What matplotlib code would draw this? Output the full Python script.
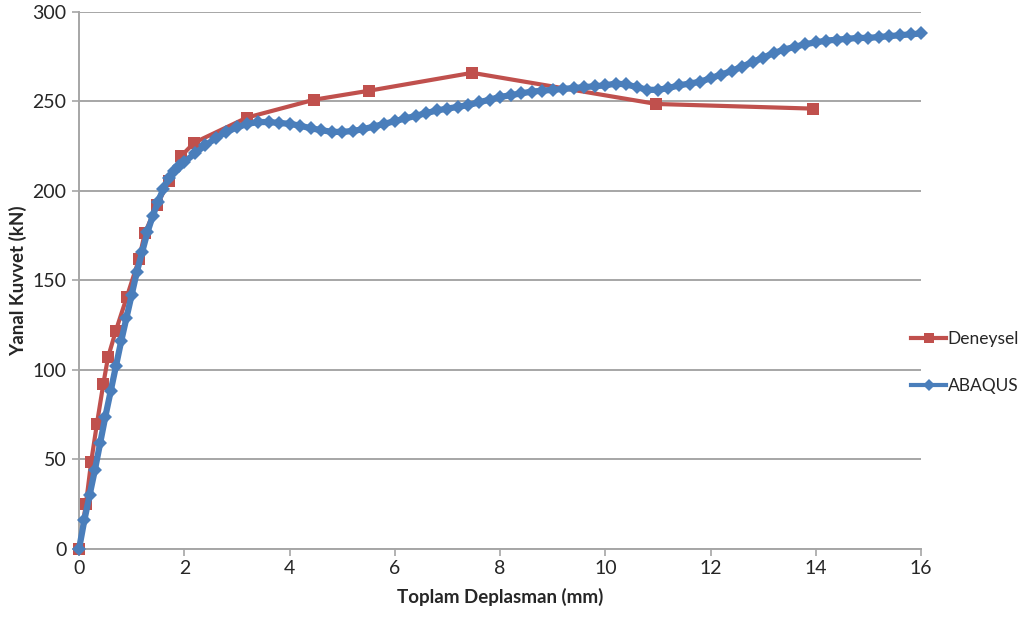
import matplotlib
matplotlib.use("Agg")
import matplotlib.pyplot as plt

# Deneysel (test) curve
deney_x = [0, 0.13, 0.23, 0.34, 0.46, 0.55, 0.70, 0.91, 1.14, 1.25, 1.48, 1.71,
           1.94, 2.19, 3.19, 4.47, 5.51, 7.47, 10.97, 13.95]
deney_y = [0, 25, 48.6, 70, 92, 107, 122, 141, 162, 176.5, 192, 205.6,
           219.5, 227, 241, 251, 256, 266, 248.6, 246]

# ABAQUS (FE) curve
abaqus_x = [0, 0.1, 0.2, 0.3, 0.4, 0.5, 0.6, 0.7, 0.8, 0.9, 1.0, 1.1, 1.2, 1.3,
            1.4, 1.5, 1.6, 1.7, 1.8, 1.9, 2.0, 2.2, 2.4, 2.6, 2.8, 3.0, 3.2,
            3.4, 3.6, 3.8, 4.0, 4.2, 4.4, 4.6, 4.8, 5.0, 5.2, 5.4, 5.6, 5.8,
            6.0, 6.2, 6.4, 6.6, 6.8, 7.0, 7.2, 7.4, 7.6, 7.8, 8.0, 8.2, 8.4,
            8.6, 8.8, 9.0, 9.2, 9.4, 9.6, 9.8, 10.0, 10.2, 10.4, 10.6, 10.8,
            11.0, 11.2, 11.4, 11.6, 11.8, 12.0, 12.2, 12.4, 12.6, 12.8, 13.0,
            13.2, 13.4, 13.6, 13.8, 14.0, 14.2, 14.4, 14.6, 14.8, 15.0, 15.2,
            15.4, 15.6, 15.8, 16.0]
abaqus_y = [0, 16, 30, 44, 59, 74, 88, 102, 116, 129, 142, 155, 166, 177,
            186, 194, 201, 207, 211, 214, 216, 221, 225.5, 229.5, 233, 235.5,
            237.5, 238.5, 238.5, 238, 237.5, 236.5, 235, 234, 233, 233, 233.5,
            234.5, 236, 237.5, 239, 240.5, 242, 243.5, 245, 246, 247, 248,
            249.5, 251, 252.5, 253.5, 254.5, 255.5, 256, 256.5, 257, 257.5,
            258, 258.5, 259, 260, 259.5, 258, 256.5, 256.5, 257.5, 259, 260,
            261, 263, 265, 267, 269.5, 272, 274.5, 277, 279, 280.5, 282, 283,
            284, 284.5, 285, 285.5, 285.5, 286, 286.5, 287, 287.5, 288]

x_ticks = [0, 2, 4, 6, 8, 10, 12, 14, 16]
y_ticks = [0, 50, 100, 150, 200, 250, 300]

red = "#C0504D"
blue = "#4A7EBB"
grid_col = "#A6A6A6"
txt_col = "#262626"

plt.rcParams["font.family"] = ["Lato", "DejaVu Sans"]

fig = plt.figure(figsize=(10.2, 6.23), dpi=100)
ax = fig.add_axes([0.0775, 0.1188, 0.8255, 0.862])

ax.plot(abaqus_x, abaqus_y, color=blue, lw=4.5, marker="D", ms=7.5,
        markeredgewidth=0, label="ABAQUS", zorder=3, clip_on=False)
ax.plot(deney_x, deney_y, color=red, lw=3, marker="s", ms=9,
        markeredgewidth=0, label="Deneysel", zorder=2, clip_on=False)

ax.set_xlim(0, 16)
ax.set_ylim(0, 300)
ax.set_xticks(x_ticks)
ax.set_yticks(y_ticks)
ax.yaxis.grid(True, color=grid_col, lw=1.4)
ax.set_axisbelow(True)

for s in ["top", "right"]:
    ax.spines[s].set_visible(False)
for s in ["left", "bottom"]:
    ax.spines[s].set_color(grid_col)
    ax.spines[s].set_linewidth(1.4)

ax.tick_params(axis="both", colors=grid_col, labelcolor=txt_col,
               labelsize=14, length=5, width=1.2, direction="out")
ax.tick_params(axis="y", pad=4)
ax.tick_params(axis="x", pad=3)

ax.set_xlabel("Toplam Deplasman (mm)", fontsize=13.5, fontweight="bold",
              color=txt_col, labelpad=8)
ax.set_ylabel("Yanal Kuvvet (kN)", fontsize=13.5, fontweight="bold",
              color=txt_col, labelpad=4)

handles, labels = ax.get_legend_handles_labels()
leg = fig.legend(handles[::-1], labels[::-1], loc="center left",
                 bbox_to_anchor=(0.878, 0.418), frameon=False, fontsize=12.5,
                 handlelength=2.0, handletextpad=0.1, labelspacing=1.75,
                 markerscale=0.8)
for t in leg.get_texts():
    t.set_color(txt_col)
for ln in leg.get_lines():
    ln.set_linewidth(3)

fig.savefig("out.png", dpi=100)
